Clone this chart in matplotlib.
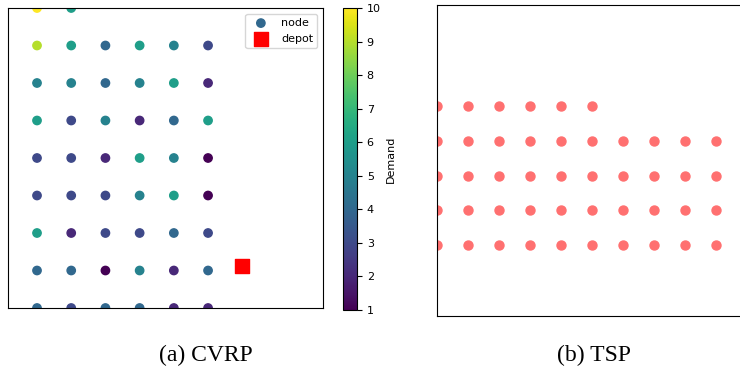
import numpy as np
import matplotlib.pyplot as plt

# CVRP customer demands, one list per grid row (bottom row first)
cvrp_demand = [
    [4, 3, 4, 4, 2, 2],
    [4, 4, 1, 5, 2, 4],
    [6, 2, 3, 3, 4, 3],
    [3, 3, 3, 5, 6, 1],
    [3, 3, 2, 6, 5, 1],
    [6, 3, 5, 2, 4, 6],
    [5, 5, 4, 5, 6, 2],
    [9, 6, 4, 6, 5, 3],
    [10, 6],
]
depot_x = [6]
depot_y = [1.12]

# TSP cities: full rows and the shorter top row
tsp_full_rows = [0, 1, 2, 3]
tsp_full_cols = [0, 1, 2, 3, 4, 5, 6, 7, 8, 9]
tsp_top_row = 4
tsp_top_cols = [0, 1, 2, 3, 4, 5]

node_x, node_y, node_d = [], [], []
for r, row in enumerate(cvrp_demand):
    for c, d in enumerate(row):
        node_x.append(c)
        node_y.append(r)
        node_d.append(d)

tsp_x, tsp_y = [], []
for r in tsp_full_rows:
    for c in tsp_full_cols:
        tsp_x.append(c)
        tsp_y.append(r)
for c in tsp_top_cols:
    tsp_x.append(c)
    tsp_y.append(tsp_top_row)

fig = plt.figure(figsize=(7.4, 3.73), dpi=100)
W, H = 740, 373


def px_axes(x0, y0, x1, y1):
    # axes from pixel box (top-left origin)
    return fig.add_axes([x0 / W, (H - y1) / H, (x1 - x0) / W, (y1 - y0) / H])


# (a) CVRP
ax1 = px_axes(8, 8, 323, 308)
sc = ax1.scatter(node_x, node_y, c=node_d, cmap='viridis', vmin=1, vmax=10,
                 s=36, label='node')
ax1.scatter(depot_x, depot_y, marker='s', color='red', s=90, label='depot')
ax1.set_xlim(-0.848, 8.36)
ax1.set_ylim(0, 8)
ax1.set_xticks([])
ax1.set_yticks([])
ax1.legend(loc='upper right', fontsize=8)

cax = px_axes(343, 8, 357, 310)
cb = fig.colorbar(sc, cax=cax)
cb.set_ticks(range(1, 11))
cb.ax.tick_params(labelsize=8)
cb.set_label('Demand', fontsize=8)

# (b) TSP
ax2 = px_axes(437, 5, 760, 316)
ax2.scatter(tsp_x, tsp_y, color='#ff7070', s=42)
ax2.set_xlim(0, 323 / 31)
ax2.set_ylim(-2.04, 6.91)
ax2.set_xticks([])
ax2.set_yticks([])

fig.text(206 / W, 1 - 355 / H, '(a) CVRP', family='Liberation Serif',
         fontsize=17, ha='center', va='center')
fig.text(594 / W, 1 - 355 / H, '(b) TSP', family='Liberation Serif',
         fontsize=17, ha='center', va='center')

fig.savefig('out.png', dpi=100)
